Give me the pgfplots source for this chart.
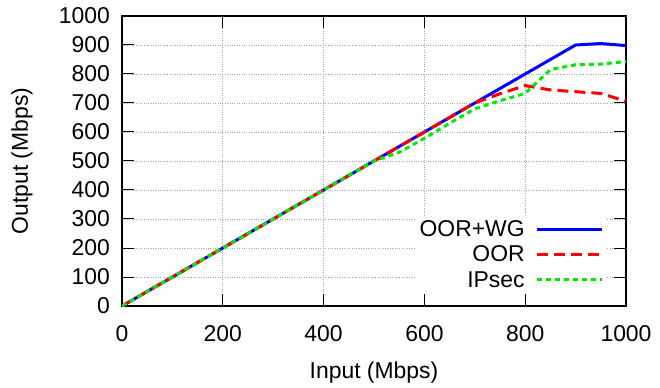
\documentclass[border=0pt]{standalone}
\usepackage{fontspec}
\setmainfont{Liberation Sans}
\usepackage{pgfplots}
\pgfplotsset{compat=1.18}
\definecolor{cblue}{RGB}{0,0,255}
\definecolor{cred}{RGB}{255,0,0}
\definecolor{cgreen}{RGB}{0,235,0}
\begin{document}
\begin{tikzpicture}
\path[use as bounding box] (-122bp,-82bp) rectangle (538bp,306bp);
\begin{axis}[
  at={(0,0)}, anchor=south west,
  scale only axis, width=504bp, height=290bp,
  xmin=0, xmax=1000, ymin=0, ymax=1000,
  xtick={0,200,...,1000}, ytick={0,100,...,1000},
  grid=major, grid style={gray!70, dotted, line width=0.8bp},
  tick style={black, line width=1bp}, major tick length=12bp,
  tick align=inside,
  axis line style={black, line width=1.5bp},
  font=\fontsize{23}{27}\selectfont,
  /pgf/number format/assume math mode=true,
  /pgf/number format/1000 sep={},
  xticklabel style={anchor=center, yshift=-28bp},
  yticklabel style={anchor=east, inner sep=0pt, xshift=-12bp},
  xlabel={Input (Mbps)}, ylabel={Output (Mbps)},
  every axis x label/.style={at={(rel axis cs:0.5,0)}, yshift=-67bp, anchor=center},
  every axis y label/.style={at={(rel axis cs:0,0.5)}, xshift=-100bp, rotate=90, anchor=center},
  legend plot pos=right,
  legend cell align=right,
  legend image code/.code={\draw[#1] (0bp,0bp) -- (65bp,0bp);},
  legend style={draw=none, fill=white, at={(rel axis cs:0.96,0.31)}, anchor=north east,
    font=\fontsize{23}{27}\selectfont, row sep=4bp, column sep=9bp, inner sep=2bp,
    nodes={inner sep=2bp}},
]
\addplot[cblue, line width=3bp, no marks] coordinates {
(0,0) (100,100) (200,200) (300,300) (400,400) (500,500) (600,600) (700,700) (800,800) (900,900) (950,905) (1000,898)};
\addlegendentry{OOR+WG}
\addplot[cred, line width=3bp, no marks, dash pattern=on 11bp off 6bp] coordinates {
(0,0) (100,100) (200,200) (300,300) (400,400) (500,500) (600,600) (700,700) (750,732) (800,760) (850,745) (900,739) (950,733) (1000,706)};
\addlegendentry{OOR}
\addplot[cgreen, line width=3bp, no marks, dash pattern=on 5bp off 4bp] coordinates {
(0,0) (100,100) (200,200) (300,300) (400,400) (500,500) (550,530) (600,578) (650,630) (700,680) (750,708) (800,733) (850,815) (900,832) (950,834) (1000,843)};
\addlegendentry{IPsec}
\end{axis}
\end{tikzpicture}
\end{document}
